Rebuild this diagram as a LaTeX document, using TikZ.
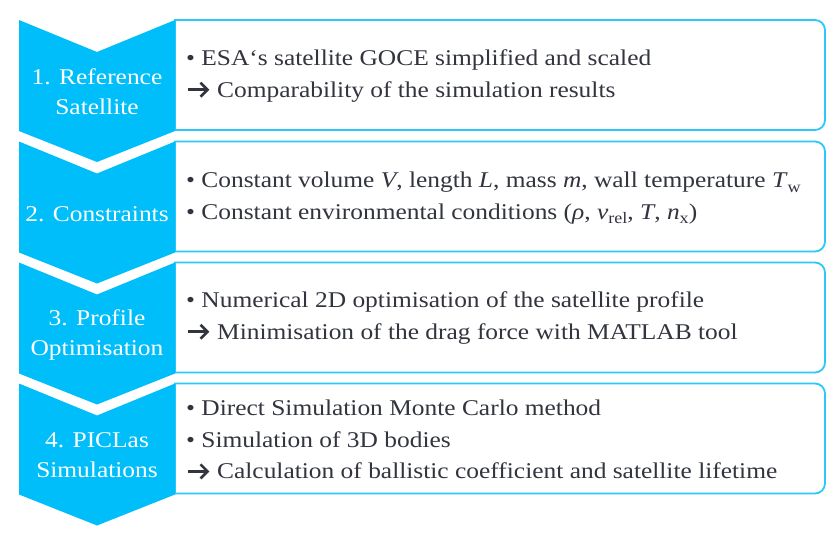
\documentclass[tikz,border=0pt]{standalone}
\usepackage{fontspec}
\setmainfont{Liberation Serif}[FakeStretch=1.13]
\definecolor{chev}{RGB}{0,190,250}
\definecolor{bord}{RGB}{45,200,250}
\definecolor{txt}{RGB}{50,53,62}
\newcommand{\arr}{\tikz[x=1pt,y=1pt,baseline=0pt]{\draw[txt,line width=2.6pt,line cap=butt] (0,7.5)--(20,7.5); \draw[txt,line width=2.6pt,line join=miter,line cap=butt] (13,14.5)--(20,7.5)--(13,0.5);}\hspace{2pt}}
\newcommand{\bul}{\char"2022}
\newcommand{\sbs}[1]{\raisebox{-0.22em}{\fontsize{16}{16}\selectfont #1}}
\tikzset{
  chevron/.style={fill=chev, draw=none},
  boxline/.style={draw=bord, line width=1.8pt, fill=white},
  steplabel/.style={text=white, font=\fontsize{22.5}{30}\selectfont, align=center, inner sep=0pt},
  boxtext/.style={text=txt, font=\fontsize{22.5}{31.5}\selectfont, align=left, anchor=west, inner sep=0pt},
}
\newcommand{\stage}[1]{%
  \path[boxline] (175,#1) -- (815,#1) arc(-90:0:10) -- (825,#1+100) arc(0:90:10) -- (175,#1+110) -- cycle;
  \path[chevron] (19,#1) -- (97,#1+32) -- (175,#1) -- (175,#1+111) -- (97,#1+142) -- (19,#1+111) -- cycle;
}
\begin{document}
\begin{tikzpicture}[x=1pt,y=-1pt]
\useasboundingbox (0,0) rectangle (840,546);
\stage{20}
\stage{141.5}
\stage{262.5}
\stage{383.5}
\node[steplabel] (l1) at (97,92) {1. Reference\\Satellite};
\node[steplabel] (l2) at (97,214) {2. Constraints};
\node[steplabel] (l3) at (97,335) {3. Profile\\Optimisation};
\node[steplabel] (l4) at (97,455) {4. PICLas\\Simulations};
\node[boxtext] (t1) at (186,76) {\bul{} ESA‘s satellite GOCE simplified and scaled\\\arr{} Comparability of the simulation results};
\node[boxtext] (t2) at (186,198) {\bul{} Constant volume \textit{V}, length \textit{L}, mass \textit{m}, wall temperature \textit{T}\sbs{w}\\\bul{} Constant environmental conditions (\textit{ρ}, \textit{v}\sbs{rel}, \textit{T}, \textit{n}\sbs{x})};
\node[boxtext] (t3) at (186,318) {\bul{} Numerical 2D optimisation of the satellite profile\\\arr{} Minimisation of the drag force with MATLAB tool};
\node[boxtext] (t4) at (186,440) {\bul{} Direct Simulation Monte Carlo method\\\bul{} Simulation of 3D bodies\\\arr{} Calculation of ballistic coefficient and satellite lifetime};
\end{tikzpicture}
\end{document}
